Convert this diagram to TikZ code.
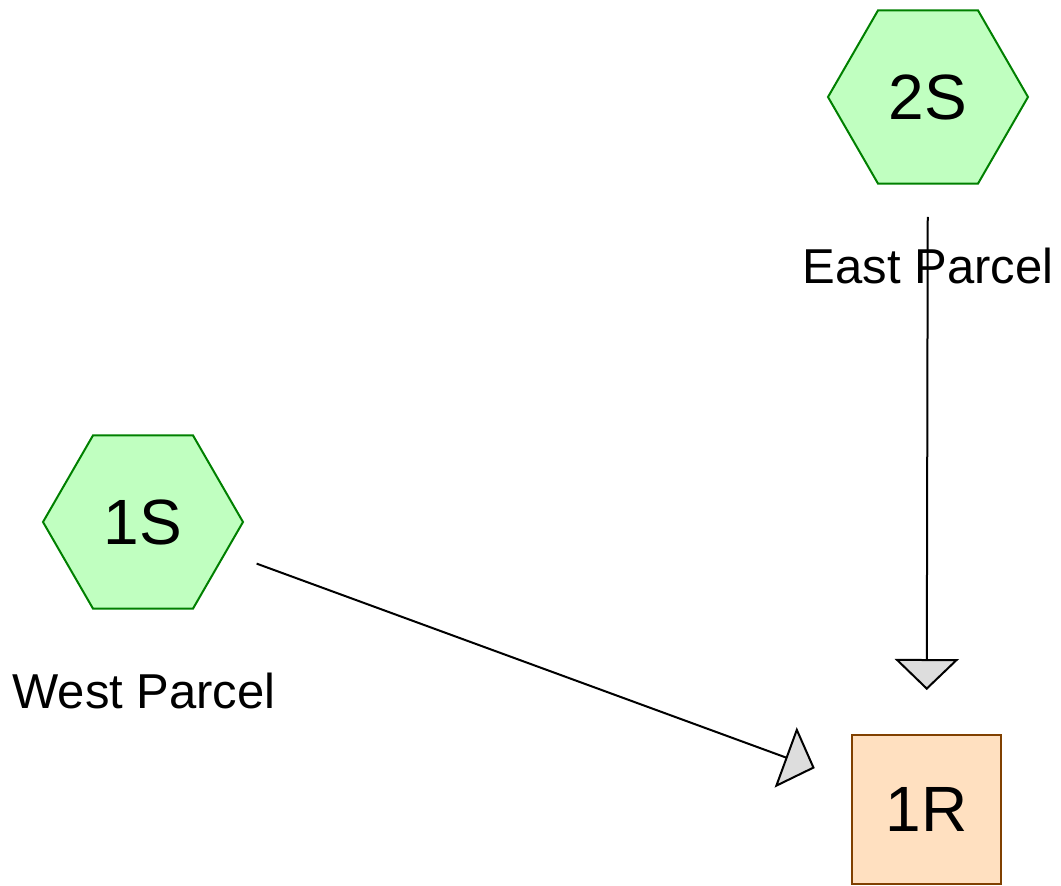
\documentclass[tikz,border=0pt]{standalone}
\usepackage{fontspec}
\setmainfont{Liberation Sans}
\usetikzlibrary{shapes.geometric,arrows.meta}
\definecolor{hexfill}{HTML}{C0FFC0}
\definecolor{hexline}{HTML}{008000}
\definecolor{sqfill}{HTML}{FFE0C0}
\definecolor{sqline}{HTML}{804000}
\definecolor{tipfill}{HTML}{DDDDDD}
\tikzset{
  hexnode/.style={regular polygon, regular polygon sides=6, minimum size=200pt,
    inner sep=0pt, outer sep=0pt, draw=hexline, fill=hexfill, line width=2pt,
    font=\fontsize{64}{77}\selectfont},
  sqnode/.style={rectangle, minimum size=149pt, inner sep=0pt, outer sep=0pt,
    draw=sqline, fill=sqfill, line width=2pt, font=\fontsize{64}{77}\selectfont},
  lbl/.style={anchor=base, inner sep=0pt, font=\fontsize{49}{59}\selectfont},
  conn/.style={line width=2pt, -{Triangle[length=31pt, width=64pt, fill=tipfill]}}
}
\begin{document}
\begin{tikzpicture}[x=1pt,y=-1pt]
\useasboundingbox (0,0) rectangle (1061,886);
\node[hexnode] (s2) at (928,97) {2S};
\node[hexnode] (s1) at (143,522) {1S};
\node[sqnode] (r1) at (926.5,809) {1R};
\node[lbl] (le) at (928,283) {East Parcel};
\node[lbl] (lw) at (144,708) {West Parcel};
\draw[conn, shorten <=120pt, shorten >=119pt] (s2.center) -- (r1.center);
\draw[conn, shorten <=121pt, shorten >=119pt] (s1.center) -- (r1.center);
\end{tikzpicture}
\end{document}
